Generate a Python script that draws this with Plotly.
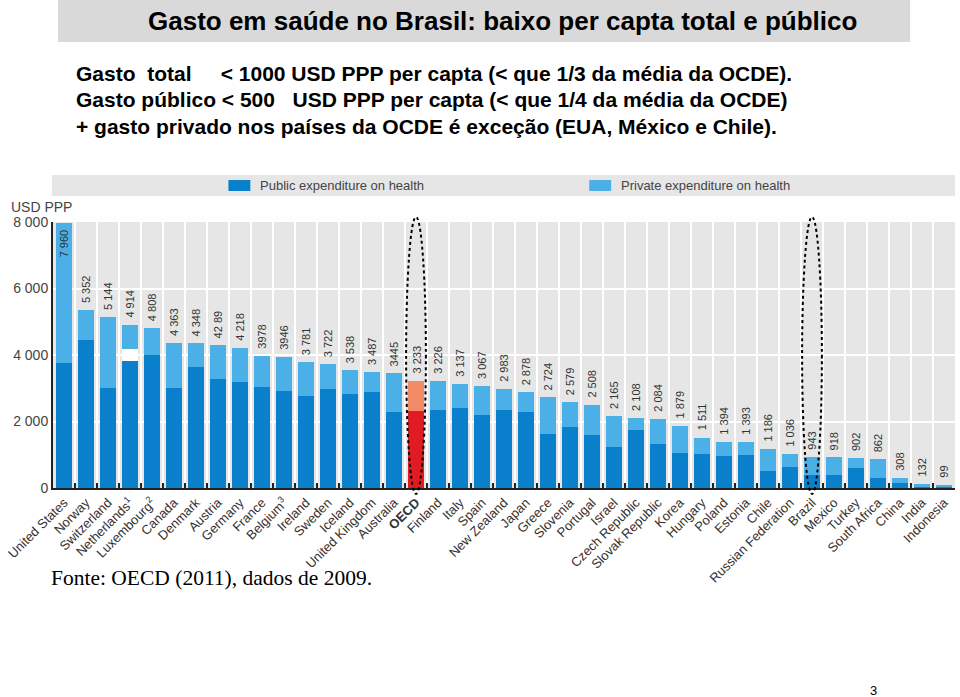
import plotly.graph_objects as go

countries = ["United States", "Norway", "Switzerland", "Netherlands<sup>1</sup>", "Luxembourg<sup>2</sup>",
             "Canada", "Denmark", "Austria", "Germany", "France", "Belgium<sup>3</sup>", "Ireland", "Sweden",
             "Iceland", "United Kingdom", "Australia", "<b>OECD</b>", "Finland", "Italy", "Spain", "New Zealand",
             "Japan", "Greece", "Slovenia", "Portugal", "Israel", "Czech Republic", "Slovak Republic", "Korea",
             "Hungary", "Poland", "Estonia", "Chile", "Russian Federation", "Brazil", "Mexico", "Turkey",
             "South Africa", "China", "India", "Indonesia"]

total = [7960, 5352, 5144, 4914, 4808, 4363, 4348, 4289, 4218, 3978, 3946, 3781, 3722, 3538, 3487, 3445,
         3233, 3226, 3137, 3067, 2983, 2878, 2724, 2579, 2508, 2165, 2108, 2084, 1879, 1511, 1394, 1393,
         1186, 1036, 943, 918, 902, 862, 308, 132, 99]

public = [3760, 4460, 3010, 3820, 4015, 3010, 3640, 3290, 3190, 3040, 2910, 2780, 2990, 2840, 2880, 2280,
          2320, 2340, 2400, 2190, 2340, 2290, 1610, 1840, 1580, 1220, 1730, 1310, 1040, 1020, 970, 990,
          510, 640, 390, 390, 610, 310, 160, 45, 45]

# unallocated (white) part shown for the Netherlands
unallocated = [0, 0, 0, 375] + [0] * 37

value_labels = ["7 960", "5 352", "5 144", "4 914", "4 808", "4 363", "4 348", "42 89", "4 218", "3978",
                "3946", "3 781", "3 722", "3 538", "3 487", "3445", "3 233", "3 226", "3 137", "3 067",
                "2 983", "2 878", "2 724", "2 579", "2 508", "2 165", "2 108", "2 084", "1 879", "1 511",
                "1 394", "1 393", "1 186", "1 036", "943", "918", "902", "862", "308", "132", "99"]

y_ticks = [0, 2000, 4000, 6000, 8000]
y_ticktext = ["0", "2 000", "4 000", "6 000", "8 000"]

highlight = ["<b>OECD</b>", "Brazil"]

private = [t - p - u for t, p, u in zip(total, public, unallocated)]

PUB = "#0a7fcc"
PRIV = "#4bb0e8"
PUB_OECD = "#e01b23"
PRIV_OECD = "#f28a68"

pub_colors = [PUB_OECD if c == "<b>OECD</b>" else PUB for c in countries]
priv_colors = [PRIV_OECD if c == "<b>OECD</b>" else PRIV for c in countries]

NARROW = "Liberation Sans Narrow, Arial Narrow, Liberation Sans, Arial, sans-serif"
SANS = "Liberation Sans, Arial, sans-serif"

# pixel -> paper helpers (plot area: x 50..955, y 222..488)
L, R, T, B = 50, 955, 222, 488
def px(x):
    return (x - L) / (R - L)
def py(y):
    return (B - y) / (B - T)

fig = go.Figure()
fig.add_trace(go.Bar(x=countries, y=public, marker=dict(color=pub_colors, line=dict(width=0)),
                     name="Public expenditure on health", showlegend=False))
fig.add_trace(go.Bar(x=countries, y=unallocated, marker=dict(color="white", line=dict(width=0)),
                     showlegend=False))
fig.add_trace(go.Bar(x=countries, y=private, marker=dict(color=priv_colors, line=dict(width=0)),
                     name="Private expenditure on health", showlegend=False))

annotations = []
for i, (c, t, lab) in enumerate(zip(countries, total, value_labels)):
    inside = t > 7500
    annotations.append(dict(x=c, y=t, xref="x", yref="y", text=lab, showarrow=False, textangle=-90,
                            yanchor="top" if inside else "bottom", yshift=-4 if inside else 5,
                            font=dict(family=NARROW, size=11, color="#333333")))

shapes = []
# dotted ellipses around OECD and Brazil
for c in highlight:
    idx = countries.index(c)
    shapes.append(dict(type="circle", xref="x", yref="paper", x0=idx - 0.45, x1=idx + 0.45,
                       y0=py(494), y1=py(217), line=dict(color="black", width=2, dash="dot"),
                       layer="above"))

# title bar
shapes.append(dict(type="rect", xref="paper", yref="paper", x0=px(55), x1=px(910), y0=py(42), y1=py(0),
                   fillcolor="#d9d9d9", line=dict(width=0), layer="below"))
# legend band
shapes.append(dict(type="rect", xref="paper", yref="paper", x0=px(49), x1=px(955), y0=py(196), y1=py(175),
                   fillcolor="#e6e6e6", line=dict(width=0), layer="below"))
shapes.append(dict(type="rect", xref="paper", yref="paper", x0=px(226), x1=px(248), y0=py(191), y1=py(180),
                   fillcolor=PUB, line=dict(width=0)))
shapes.append(dict(type="rect", xref="paper", yref="paper", x0=px(588), x1=px(610), y0=py(191), y1=py(180),
                   fillcolor=PRIV, line=dict(width=0)))

annotations += [
    dict(x=px(256), y=py(185.5), xref="paper", yref="paper", text="Public expenditure on health",
         showarrow=False, xanchor="left", yanchor="middle", font=dict(family=NARROW, size=13, color="#444444")),
    dict(x=px(618), y=py(185.5), xref="paper", yref="paper", text="Private expenditure on health",
         showarrow=False, xanchor="left", yanchor="middle", font=dict(family=NARROW, size=13, color="#444444")),
    dict(x=px(6), y=py(207), xref="paper", yref="paper", text="USD PPP", showarrow=False,
         xanchor="left", yanchor="middle", font=dict(family=NARROW, size=14, color="#444444")),
    dict(x=px(501), y=py(21), xref="paper", yref="paper",
         text="<b>Gasto em saúde no Brasil: baixo per capta total e público</b>", showarrow=False,
         xanchor="center", yanchor="middle", font=dict(family=SANS, size=26, color="black")),
    dict(x=px(71), y=py(73), xref="paper", yref="paper",
         text="<b>Gasto\u00a0\u00a0total\u00a0\u00a0\u00a0\u00a0\u00a0< 1000 USD PPP per capta (< que 1/3 da média da OCDE).</b>",
         showarrow=False, xanchor="left", yanchor="middle", font=dict(family=SANS, size=21, color="black")),
    dict(x=px(71), y=py(100), xref="paper", yref="paper",
         text="<b>Gasto público < 500\u00a0\u00a0\u00a0USD PPP per capta (< que 1/4 da média da OCDE)</b>",
         showarrow=False, xanchor="left", yanchor="middle", font=dict(family=SANS, size=21, color="black")),
    dict(x=px(71), y=py(126), xref="paper", yref="paper",
         text="<b>+ gasto privado nos países da OCDE é exceção (EUA, México e Chile).</b>",
         showarrow=False, xanchor="left", yanchor="middle", font=dict(family=SANS, size=21, color="black")),
    dict(x=px(46), y=py(578), xref="paper", yref="paper", text="Fonte: OECD (2011), dados de 2009.",
         showarrow=False, xanchor="left", yanchor="middle",
         font=dict(family="Liberation Serif, Times New Roman, serif", size=21.5, color="black")),
    dict(x=px(873), y=py(690), xref="paper", yref="paper", text="3", showarrow=False,
         xanchor="center", yanchor="middle", font=dict(family=SANS, size=13, color="black")),
]

fig.update_layout(
    width=960, height=697,
    margin=dict(l=L, r=960 - R, t=T, b=697 - B),
    paper_bgcolor="white", plot_bgcolor="#e6e6e6",
    barmode="stack", bargap=0.26,
    shapes=shapes, annotations=annotations,
    xaxis=dict(type="category", tickson="boundaries", showgrid=True, gridcolor="white", gridwidth=2,
               ticks="inside", ticklen=5, tickwidth=2, tickcolor="#222222",
               showline=True, linecolor="#222222", linewidth=2, tickangle=-45,
               tickfont=dict(family=NARROW, size=13, color="#333333"), range=[-0.5, len(countries) - 0.5]),
    yaxis=dict(range=[0, 8000], tickvals=y_ticks, ticktext=y_ticktext, showgrid=True, gridcolor="white",
               gridwidth=1.5, showline=True, linecolor="#222222", linewidth=2, zeroline=False,
               ticks="", tickfont=dict(family=NARROW, size=14, color="#444444")),
)

fig.write_html("out.html")
